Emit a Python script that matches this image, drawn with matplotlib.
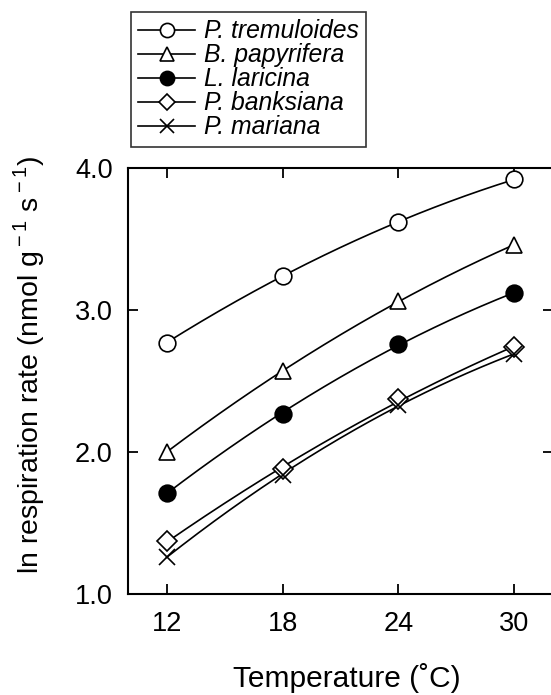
import matplotlib
matplotlib.use("Agg")
import matplotlib.pyplot as plt
import numpy as np
from matplotlib.lines import Line2D

plt.rcParams["font.family"] = ["Liberation Sans", "DejaVu Sans"]
plt.rcParams["mathtext.fontset"] = "custom"
plt.rcParams["mathtext.rm"] = "Liberation Sans"

temperature = [12, 18, 24, 30]
species = ["P. tremuloides", "B. papyrifera", "L. laricina", "P. banksiana", "P. mariana"]
rates = {
    "P. tremuloides": [2.77, 3.24, 3.62, 3.92],
    "B. papyrifera": [2.00, 2.57, 3.06, 3.46],
    "L. laricina": [1.71, 2.27, 2.76, 3.12],
    "P. banksiana": [1.37, 1.88, 2.37, 2.74],
    "P. mariana": [1.26, 1.84, 2.33, 2.69],
}
x_ticks = [12, 18, 24, 30]
y_ticks = [1.0, 2.0, 3.0, 4.0]

styles = {
    "P. tremuloides": dict(marker="o", mfc="white", ms=12),
    "B. papyrifera": dict(marker="^", mfc="white", ms=12),
    "L. laricina": dict(marker="o", mfc="black", ms=12),
    "P. banksiana": dict(marker="D", mfc="white", ms=10),
    "P. mariana": dict(marker="x", mfc="black", ms=12),
}

fig = plt.figure(figsize=(5.51, 6.95), dpi=100)
ax = fig.add_axes([128 / 551, 1 - 594 / 695, 425 / 551, 426 / 695])

handles = []
for name in species:
    x = np.array(temperature, dtype=float)
    y = np.array(rates[name])
    # smooth fitted curve through each species' points
    coef = np.polyfit(x, y, 2)
    xs = np.linspace(x.min(), x.max(), 200)
    ax.plot(xs, np.polyval(coef, xs), color="black", lw=1.2, zorder=2)
    st = styles[name]
    ax.plot(x, y, linestyle="none", marker=st["marker"], ms=st["ms"],
            mfc=st["mfc"], mec="black", mew=1.2, zorder=3)
    handles.append(Line2D([], [], color="black", lw=1.2, marker=st["marker"],
                          ms=st["ms"] * 0.85, mfc=st["mfc"], mec="black", mew=1.2,
                          label=name))

ax.set_xlim(10, 32)
ax.set_ylim(1.0, 4.0)
ax.set_xticks(x_ticks)
ax.set_yticks(y_ticks)
ax.set_yticklabels([f"{v:.1f}" for v in y_ticks])
ax.tick_params(direction="in", length=7.5, width=1.3, labelsize=19.5,
               top=True, right=True)
ax.tick_params(axis="x", pad=12)
ax.tick_params(axis="y", pad=11)
for sp in ax.spines.values():
    sp.set_linewidth(1.5)

ax.set_xlabel("Temperature (˚C)", fontsize=21.5)
ax.xaxis.set_label_coords(0.515, -0.163)
ax.set_ylabel(r"ln respiration rate (nmol g$^{\rm -1}$ s$^{\rm -1}$)", fontsize=20.5)
ax.yaxis.set_label_coords(-0.19, 0.538)

leg = fig.legend(handles=handles, loc="upper left", bbox_to_anchor=(131 / 551, 1 - 12 / 695),
                 bbox_transform=fig.transFigure, borderaxespad=0, frameon=True,
                 fancybox=False, edgecolor="black", handlelength=2.3,
                 handletextpad=0.35, labelspacing=0.0, borderpad=0.3,
                 prop={"style": "italic", "size": 17.8})
leg.get_frame().set_linewidth(1.2)

fig.savefig("out.png", dpi=100)
